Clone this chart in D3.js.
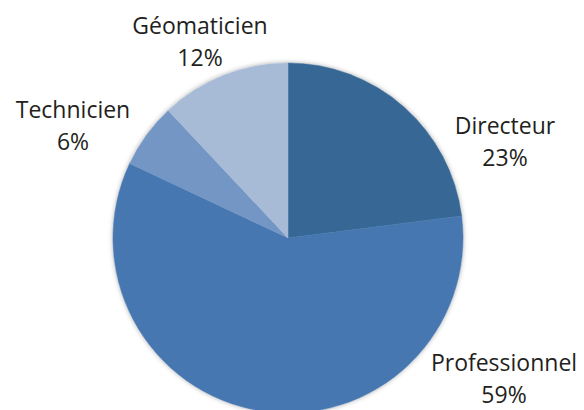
<!DOCTYPE html>
<html>
<head>
<meta charset="utf-8">
<script src="https://cdn.jsdelivr.net/npm/d3@7"></script>
<style>
  body { margin: 0; background: #fff; }
  text { font-family: "Open Sans", "Lato", sans-serif; fill: #231f20; }
</style>
</head>
<body>
<div id="chart"></div>
<script>
const categories = ["Directeur", "Professionnel", "Technicien", "Géomaticien"];
const values = [23, 59, 6, 12];
const colors = ["#376895", "#4677b0", "#7396c4", "#a7bbd6"];

const width = 584;
const height = 410;
const cx = 288, cy = 238, radius = 175;

// label spots (Excel "best fit" placement)
const labelPos = [[505, 134], [504, 371], [73, 118], [200, 34]];

const svg = d3.select("#chart")
    .append("svg")
    .attr("width", width)
    .attr("height", height);

const defs = svg.append("defs");
const shadow = defs.append("filter").attr("id", "shadow")
    .attr("x", "-10%").attr("y", "-10%").attr("width", "120%").attr("height", "120%");
shadow.append("feDropShadow")
    .attr("dx", 0).attr("dy", 0).attr("stdDeviation", 2.5)
    .attr("flood-color", "#000").attr("flood-opacity", 0.35);

const pie = d3.pie().sort(null).value(d => d);
const arc = d3.arc().innerRadius(0).outerRadius(radius);

const g = svg.append("g")
    .attr("transform", `translate(${cx},${cy})`);

g.append("circle")
    .attr("r", radius)
    .attr("fill", "#fff")
    .attr("filter", "url(#shadow)");

g.selectAll("path")
    .data(pie(values))
    .enter()
    .append("path")
    .attr("d", arc)
    .attr("fill", (d, i) => colors[i])
    .attr("stroke", (d, i) => colors[i])
    .attr("stroke-width", 0.5);

const labels = svg.selectAll("text.label")
    .data(categories)
    .enter()
    .append("text")
    .attr("class", "label")
    .attr("text-anchor", "middle")
    .attr("font-size", 23)
    .attr("transform", (d, i) => `translate(${labelPos[i][0]},${labelPos[i][1]})`);

labels.append("tspan")
    .attr("x", 0)
    .attr("y", 0)
    .text(d => d);

labels.append("tspan")
    .attr("x", 0)
    .attr("y", 32)
    .text((d, i) => values[i] + "%");
</script>
</body>
</html>
